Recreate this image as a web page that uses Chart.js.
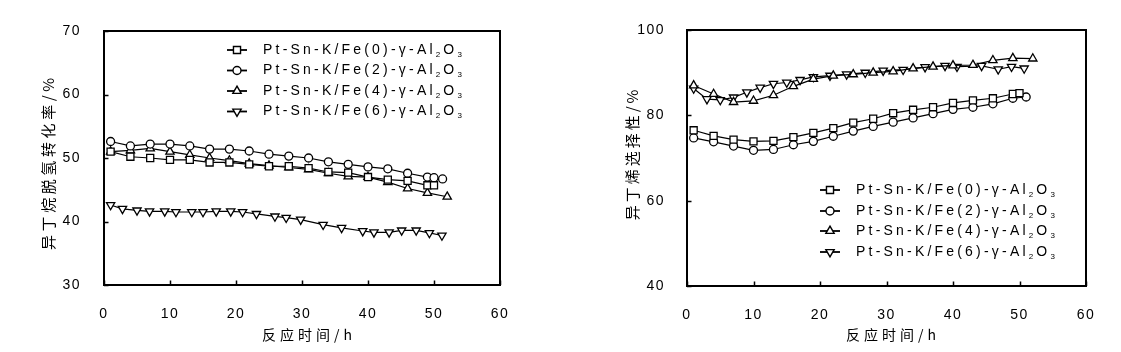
<!DOCTYPE html>
<html><head><meta charset="utf-8">
<script src="https://cdn.jsdelivr.net/npm/chart.js@4.4.0/dist/chart.umd.min.js"></script>
<style>
html,body{margin:0;padding:0;background:#fff;}
#wrap{position:relative;width:1121px;height:352px;background:#fff;}
.box{position:absolute;top:0;height:352px;}
canvas{display:block;}
</style></head><body>
<div id="wrap">
<div class="box" style="left:0;width:560px"><canvas id="c1" width="560" height="352"></canvas></div>
<div class="box" style="left:560px;width:561px"><canvas id="c2" width="561" height="352"></canvas></div>
</div>
<script>
// ---------- data ----------
const seriesLabels = ['Pt-Sn-K/Fe(0)-γ-Al₂O₃','Pt-Sn-K/Fe(2)-γ-Al₂O₃','Pt-Sn-K/Fe(4)-γ-Al₂O₃','Pt-Sn-K/Fe(6)-γ-Al₂O₃'];
const xTicks = [0,10,20,30,40,50,60];
const convTicks = [30,40,50,60,70];
const selTicks = [40,60,80,100];
const xTitle = '反应时间/h';
const convTitle = '异丁烷脱氢转化率/%';
const selTitle = '异丁烯选择性/%';

// left: conversion (%)
const convTime0 = [1,4,7,10,13,16,19,22,25,28,31,34,37,40,43,46,49,50];
const conv0     = [51.0,50.2,50.0,49.7,49.7,49.3,49.3,49.0,48.7,48.7,48.4,47.8,47.7,47.0,46.6,46.4,45.7,45.7];
const convTime2 = [1,4,7,10,13,16,19,22,25,28,31,34,37,40,43,46,49,50,51.3];
const conv2     = [52.6,51.9,52.2,52.2,51.9,51.4,51.4,51.1,50.6,50.3,50.0,49.4,49.0,48.6,48.3,47.6,47.0,46.9,46.7];
const convTime4 = [1,4,7,10,13,16,19,22,25,28,31,34,37,40,43,46,49,52];
const conv4     = [51.0,51.2,51.5,51.0,50.5,50.0,49.6,49.1,48.8,48.5,48.2,47.6,47.1,47.0,46.2,45.2,44.5,43.9];
const convTime6 = [1,2.8,5,6.9,9.2,10.9,13.3,15,17,19.2,21,23.1,25.9,27.6,29.8,33.2,36,39.2,40.9,43.2,45.1,47.3,49.3,51.2];
const conv6     = [42.6,42.0,41.75,41.6,41.6,41.5,41.5,41.5,41.6,41.6,41.5,41.2,40.8,40.6,40.3,39.5,39.0,38.5,38.3,38.3,38.6,38.6,38.2,37.8];

// right: selectivity (%)
const selTime0 = [1,4,7,10,13,16,19,22,25,28,31,34,37,40,43,46,49,50];
const sel0     = [76.5,75.2,74.3,73.9,74.0,74.9,75.9,77.0,78.3,79.2,80.5,81.3,81.9,82.9,83.5,84.0,85.0,85.2];
const selTime2 = [1,4,7,10,13,16,19,22,25,28,31,34,37,40,43,46,49,51];
const sel2     = [74.7,73.8,72.8,71.8,72.0,73.1,73.9,75.1,76.3,77.4,78.4,79.4,80.4,81.4,81.9,82.7,84.0,84.3];
const selTime4 = [1,4,7,10,13,16,19,22,25,28,31,34,37,40,43,46,49,52];
const sel4     = [87.0,85.0,83.1,83.4,84.7,86.8,88.5,89.3,89.6,90.0,90.3,91.0,91.4,91.7,91.8,92.9,93.4,93.3];
const selTime6 = [1,3,5,7,9,11,13,15,17,19,21.5,24,26.8,29.5,32.5,35.8,38.8,40.6,44.3,46.8,48.8,50.7];
const sel6     = [86.3,83.8,83.6,84.2,85.4,86.5,87.4,87.7,88.3,89.0,89.3,89.6,90.0,90.5,90.7,91.3,91.6,91.4,91.6,90.8,91.4,91.0];

// ---------- styles ----------
const FONT_LATIN = "'Liberation Sans', Arial, 'DejaVu Sans', sans-serif";
const FONT_CJK = "'Noto Sans CJK SC', 'Liberation Sans', sans-serif";
const markerStyles = [
  {pointStyle:'rect', pointRadius:5, pointRotation:0},
  {pointStyle:'circle', pointRadius:4, pointRotation:0},
  {pointStyle:'triangle', pointRadius:4.8, pointRotation:0},
  {pointStyle:'triangle', pointRadius:4.8, pointRotation:180}
];

function spacedText(ctx, str, cx, cy, size, family, spacing, rot) {
  ctx.save();
  try { ctx.letterSpacing = '0px'; } catch(e) {}
  ctx.translate(cx, cy);
  if (rot) ctx.rotate(rot);
  ctx.font = size + 'px ' + family;
  ctx.fillStyle = '#000';
  ctx.textBaseline = 'middle';
  ctx.textAlign = 'left';
  const chars = Array.from(str);
  const widths = chars.map(c => ctx.measureText(c).width);
  const total = widths.reduce((a,b)=>a+b,0) + spacing*(chars.length-1);
  let x = -total/2;
  chars.forEach((c,i)=>{ ctx.fillText(c, x, 0); x += widths[i] + spacing; });
  ctx.restore();
}

function legendText(ctx, str, x, y, size, spacing) {
  const subMap = {'₀':'0','₁':'1','₂':'2','₃':'3','₄':'4'};
  ctx.save();
  try { ctx.letterSpacing = '0px'; } catch(e) {}
  ctx.fillStyle = '#000';
  ctx.textBaseline = 'middle';
  ctx.textAlign = 'left';
  let cx = x;
  for (const ch of Array.from(str)) {
    const sub = subMap[ch];
    if (sub) {
      ctx.font = Math.round(size*0.6) + 'px ' + FONT_LATIN;
      ctx.fillText(sub, cx, y + size*0.32);
      cx += ctx.measureText(sub).width + spacing;
    } else {
      ctx.font = size + 'px ' + FONT_LATIN;
      ctx.fillText(ch, cx, y);
      cx += ctx.measureText(ch).width + spacing;
    }
  }
  ctx.restore();
}

const decorPlugin = {
  id: 'decor',
  beforeDraw(chart) {
    try { chart.ctx.letterSpacing = '1.5px'; } catch(e) {}
  },
  afterDraw(chart, args, opts) {
    const ctx = chart.ctx;
    const a = chart.chartArea;
    const xs = chart.scales.x, ys = chart.scales.y;
    ctx.save();
    ctx.strokeStyle = '#000';
    // inner ticks
    ctx.lineWidth = 1.5;
    ctx.beginPath();
    opts.xTicks.forEach(v => {
      const px = Math.round(xs.getPixelForValue(v)) + 0.5;
      ctx.moveTo(px, a.bottom); ctx.lineTo(px, a.bottom - 4.5);
    });
    opts.yTicks.forEach(v => {
      const py = Math.round(ys.getPixelForValue(v)) + 0.5;
      ctx.moveTo(a.left, py); ctx.lineTo(a.left + 4.5, py);
    });
    ctx.stroke();
    // frame
    ctx.lineWidth = 2;
    ctx.strokeRect(a.left, a.top, a.right - a.left, a.bottom - a.top);
    ctx.restore();

    // titles
    spacedText(ctx, opts.xTitle, opts.xTitlePos[0], opts.xTitlePos[1], 14, FONT_CJK, 4, 0);
    spacedText(ctx, opts.yTitle, opts.yTitlePos[0], opts.yTitlePos[1], 15, FONT_CJK, opts.yTitleSpacing, -Math.PI/2);

    // legend
    const lg = opts.legend;
    chart.data.datasets.forEach((ds, i) => {
      const y = lg.rows[i];
      ctx.save();
      ctx.strokeStyle = '#000';
      ctx.lineWidth = 1.8;
      ctx.beginPath();
      ctx.moveTo(lg.x, y); ctx.lineTo(lg.x + 20, y);
      ctx.stroke();
      ctx.fillStyle = '#fff';
      ctx.lineWidth = 1.4;
      Chart.helpers.drawPoint(ctx, {
        pointStyle: ds.pointStyle, radius: ds.pointRadius, rotation: ds.pointRotation, borderWidth: 1.4
      }, lg.x + 10, y);
      ctx.restore();
      legendText(ctx, ds.label, lg.x + 36, y, 14, 3.2);
    });
  }
};

function makeChart(canvasId, cfg) {
  const datasets = cfg.series.map((s, i) => Object.assign({
    label: seriesLabels[i],
    data: s.x.map((x, j) => ({x: x, y: s.y[j]})),
    borderColor: '#000',
    borderWidth: 1.2,
    pointBackgroundColor: '#fff',
    pointBorderColor: '#000',
    pointBorderWidth: 1.3,
    showLine: true,
    tension: 0,
    fill: false
  }, markerStyles[i], {pointHoverRadius: markerStyles[i].pointRadius}));

  return new Chart(document.getElementById(canvasId), {
    type: 'line',
    data: {datasets},
    options: {
      responsive: false,
      animation: false,
      events: [],
      layout: {padding: {top: cfg.top, right: cfg.padRight, left: 0, bottom: 0}},
      scales: {
        x: {
          type: 'linear', min: 0, max: 60,
          afterBuildTicks: s => { s.ticks = xTicks.map(v => ({value: v})); },
          ticks: {autoSkip: false, maxRotation: 0, padding: 13, color: '#000', font: {size: 14, family: FONT_LATIN}},
          grid: {display: false},
          border: {display: false},
          afterFit: s => { s.height = cfg.xHeight; }
        },
        y: {
          type: 'linear', min: cfg.yTicks[0], max: cfg.yTicks[cfg.yTicks.length-1],
          afterBuildTicks: s => { s.ticks = cfg.yTicks.map(v => ({value: v})); },
          ticks: {autoSkip: false, padding: cfg.yPad, color: '#000', font: {size: 14, family: FONT_LATIN}},
          grid: {display: false},
          border: {display: false},
          afterFit: s => { s.width = cfg.yWidth; }
        }
      },
      plugins: {
        legend: {display: false},
        tooltip: {enabled: false},
        decor: {
          xTicks: xTicks, yTicks: cfg.yTicks,
          xTitle: xTitle, yTitle: cfg.yTitle,
          xTitlePos: cfg.xTitlePos, yTitlePos: cfg.yTitlePos, yTitleSpacing: cfg.yTitleSpacing,
          legend: cfg.legend
        }
      }
    },
    plugins: [decorPlugin]
  });
}

makeChart('c1', {
  series: [{x: convTime0, y: conv0}, {x: convTime2, y: conv2}, {x: convTime4, y: conv4}, {x: convTime6, y: conv6}],
  yTicks: convTicks, yTitle: convTitle,
  top: 31, padRight: 60, xHeight: 67, yWidth: 104, yPad: 15,
  xTitlePos: [307, 335], yTitlePos: [48, 164], yTitleSpacing: 3.6,
  legend: {x: 227, rows: [50, 70.5, 91, 111.5]}
});

makeChart('c2', {
  series: [{x: selTime0, y: sel0}, {x: selTime2, y: sel2}, {x: selTime4, y: sel4}, {x: selTime6, y: sel6}],
  yTicks: selTicks, yTitle: selTitle,
  top: 30, padRight: 35, xHeight: 66, yWidth: 127, yPad: 14,
  xTitlePos: [331, 335], yTitlePos: [72, 155], yTitleSpacing: 3,
  legend: {x: 260, rows: [190, 211, 231, 252]}
});
</script>
</body></html>
